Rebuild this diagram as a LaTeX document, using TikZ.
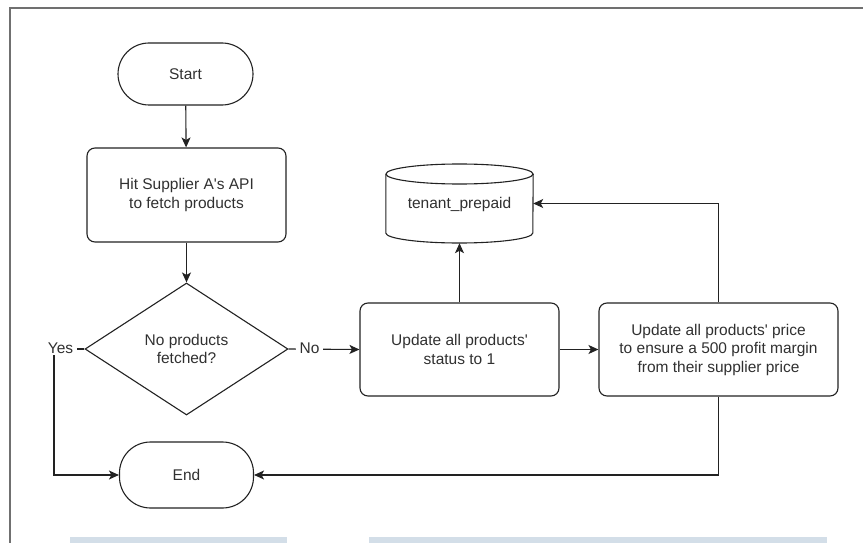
\documentclass[tikz,border=0pt]{standalone}
\usepackage{fontspec}
\setmainfont{Liberation Sans}[Ligatures=TeXOff]
\usetikzlibrary{arrows.meta,shapes.geometric}
\definecolor{ink}{HTML}{222222}
\definecolor{txt}{HTML}{303030}
\definecolor{framec}{HTML}{707070}
\definecolor{barc}{HTML}{D3DEE8}
\tikzset{
  base/.style={draw=ink, line width=1.1pt, text=txt, align=center, inner sep=0pt,
    font=\fontsize{15.5}{18.5}\selectfont},
  term/.style={base, rectangle, rounded corners=31pt},
  proc/.style={base, rectangle, rounded corners=8pt},
  conn/.style={draw=ink, line width=1.1pt, -{Stealth[length=10pt,width=9pt,inset=2.5pt]}},
  lbl/.style={fill=white, text=txt, inner xsep=4pt, inner ysep=2pt, font=\fontsize{15.5}{18}\selectfont}
}
\begin{document}
\begin{tikzpicture}[x=1pt,y=-1pt]
\useasboundingbox (0,0) rectangle (863,543);
% frame and bars
\draw[framec, line width=1.5pt] (10,543) -- (10,8) -- (863,8);
\fill[barc] (70,537) rectangle (287,543);
\fill[barc] (369,537) rectangle (827,543);
% nodes
\node[term, minimum width=135pt, minimum height=62pt] (start) at (185.5,74) {Start};
\node[proc, minimum width=199pt, minimum height=94pt] (fetch) at (186.5,195) {Hit Supplier A's API\\to fetch products};
\node[base, diamond, minimum width=203pt, minimum height=132pt, shape aspect=1.54] (dec) at (186.5,349) {};
\node[text=txt, align=center, font=\fontsize{15.5}{18.5}\selectfont] (dectxt) at (186.5,349) {No products\\fetched?};
\node[term, minimum width=134pt, minimum height=66pt] (end) at (186.5,475) {End};
\node[proc, minimum width=199pt, minimum height=93pt] (status) at (459.5,349.5) {Update all products'\\status to 1};
\node[proc, minimum width=239pt, minimum height=93pt] (price) at (718.5,349.5) {Update all products' price\\to ensure a 500 profit margin\\from their supplier price};
% database cylinder
\node[rectangle, minimum width=147pt, minimum height=79pt, inner sep=0pt] (db) at (459.5,203.5) {};
\draw[ink, line width=1.1pt, fill=white]
  (db.west |- 0,174) -- (db.west |- 0,233)
  arc[start angle=180, end angle=360, x radius=73.5pt, y radius=10pt]
  -- (db.east |- 0,174);
\draw[ink, line width=1.1pt] (459.5,174) ellipse[x radius=73.5pt, y radius=10pt];
\node[text=txt, font=\fontsize{15.5}{18}\selectfont] (dbtxt) at (459.5,204) {tenant\_prepaid};
% connectors
\coordinate (ycorner) at (54,349);
\draw[conn] (start) -- (fetch);
\draw[conn] (fetch) -- (dec);
\draw[conn] (dec.east) -- (status.west);
\draw[conn] (status) -- (price);
\draw[conn] (status.north) -- (db.south);
\draw[conn] (price.north) |- (db.east);
\draw[conn] (price.south) |- (end.east);
\draw[conn] (dec.west) -- (ycorner) |- (end.west);
\node[lbl] (yes) at (60.5,348) {Yes};
\node[lbl] (no) at (309.5,348) {No};
\end{tikzpicture}
\end{document}
